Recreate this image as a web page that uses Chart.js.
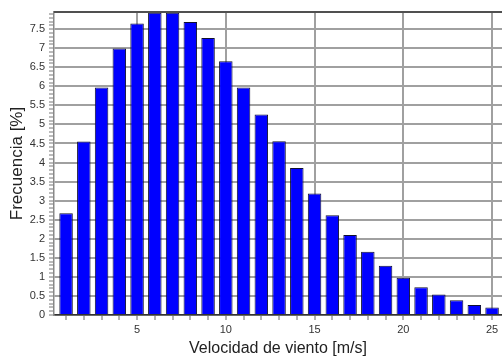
<!DOCTYPE html>
<html>
<head>
<meta charset="utf-8">
<script src="https://cdn.jsdelivr.net/npm/chart.js@4"></script>
<style>
  html, body { margin: 0; padding: 0; background: #fff; }
  #wrap { width: 502px; height: 358px; }
</style>
</head>
<body>
<div id="wrap"><canvas id="myChart"></canvas></div>
<script>
// wind speed bins [m/s] and frequency [%]
const speeds = [1, 2, 3, 4, 5, 6, 7, 8, 9, 10, 11, 12, 13, 14, 15, 16, 17, 18, 19, 20, 21, 22, 23, 24, 25];
const freq = [2.67, 4.55, 5.97, 6.99, 7.65, 7.93, 7.93, 7.69, 7.27, 6.66, 5.97, 5.26, 4.56, 3.86, 3.19,
              2.62, 2.10, 1.66, 1.29, 0.98, 0.73, 0.54, 0.39, 0.26, 0.20];
const xLabelEvery = 5;   // labelled x ticks
const yLabelEvery = 0.5; // labelled y ticks
const yMinorStep = 0.1;  // small tick marks on the y axis

const points = speeds.map((s, i) => ({ x: s, y: freq[i] }));

const isMultiple = (v, step) => Math.abs(v / step - Math.round(v / step)) < 1e-6;
const gridColor = step => c => (c.tick && isMultiple(c.tick.value, step)) ? '#a0a0a0' : 'rgba(0,0,0,0)';

// dark frame line along the top of the plot
const topBorder = {
    id: 'topBorder',
    afterDraw(chart) {
        const { ctx, chartArea } = chart;
        ctx.save();
        ctx.strokeStyle = '#505050';
        ctx.lineWidth = 2;
        ctx.beginPath();
        ctx.moveTo(chartArea.left, chartArea.top);
        ctx.lineTo(chartArea.right, chartArea.top);
        ctx.stroke();
        ctx.restore();
    }
};

const font = 'Liberation Sans, Arial, sans-serif';

new Chart(document.getElementById('myChart'), {
    type: 'bar',
    data: {
        datasets: [{
            data: points,
            backgroundColor: '#0000ff',
            borderColor: '#101030',
            borderWidth: 1,
            barPercentage: 0.76,
            categoryPercentage: 1
        }]
    },
    plugins: [topBorder],
    options: {
        responsive: true,
        maintainAspectRatio: false,
        animation: false,
        layout: { padding: { top: 12, left: 0, right: 0, bottom: 0 } },
        plugins: {
            legend: { display: false },
            tooltip: { enabled: false }
        },
        scales: {
            x: {
                type: 'linear',
                min: 0.32,
                max: 25.56,
                offset: false,
                z: 1,
                border: { color: '#333', width: 1.5 },
                grid: {
                    offset: false,
                    color: gridColor(xLabelEvery),
                    lineWidth: 2,
                    tickColor: '#666',
                    tickWidth: 1,
                    tickLength: 5
                },
                ticks: {
                    stepSize: 1,
                    autoSkip: false,
                    includeBounds: false,
                    maxRotation: 0,
                    padding: 3,
                    color: '#333',
                    font: { family: font, size: 11 },
                    callback: v => isMultiple(v, xLabelEvery) ? String(v) : ''
                },
                title: {
                    display: true,
                    text: 'Velocidad de viento [m/s]',
                    color: '#222',
                    font: { family: font, size: 16 },
                    padding: { top: 0, bottom: 0 }
                },
                afterFit: s => { s.height = 43; }
            },
            y: {
                min: 0,
                max: 7.95,
                z: 1,
                border: { color: '#888', width: 1.5 },
                grid: {
                    color: gridColor(yLabelEvery),
                    lineWidth: 2,
                    tickColor: '#777',
                    tickWidth: 1,
                    tickLength: 5
                },
                ticks: {
                    autoSkip: false,
                    padding: 4,
                    color: '#333',
                    font: { family: font, size: 11 },
                    callback: v => isMultiple(v, yLabelEvery) ? String(v) : ''
                },
                afterBuildTicks: s => {
                    const ticks = [];
                    for (let i = 0; i * yMinorStep <= s.max + 1e-9; i++) {
                        ticks.push({ value: Math.round(i * yMinorStep * 10) / 10 });
                    }
                    s.ticks = ticks;
                },
                title: {
                    display: true,
                    text: 'Frecuencia [%]',
                    color: '#222',
                    font: { family: font, size: 17 },
                    padding: { top: 7, bottom: 0 }
                },
                afterFit: s => { s.width = 54; }
            }
        }
    }
});
</script>
</body>
</html>
